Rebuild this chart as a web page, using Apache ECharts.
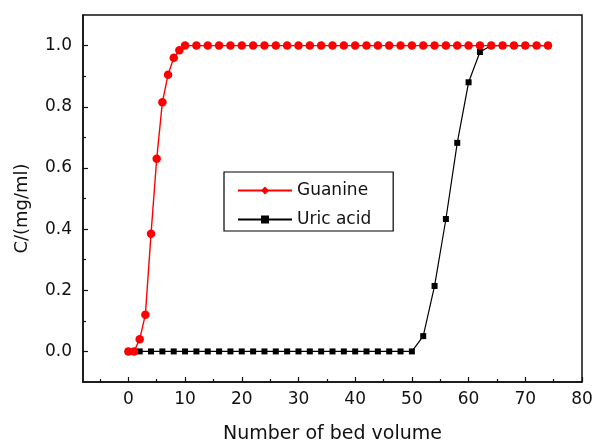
<!DOCTYPE html>
<html><head><meta charset="utf-8">
<script src="https://cdn.jsdelivr.net/npm/echarts@6/dist/echarts.min.js"></script>
<style>html,body{margin:0;padding:0;background:#fff}#c{width:592px;height:444px}</style>
</head><body><div id="c"></div>
<script>
// Data
const guanineX = [0,1,2,3,4,5,6,7,8,9,10,12,14,16,18,20,22,24,26,28,30,32,34,36,38,40,42,44,46,48,50,52,54,56,58,60,62,64,66,68,70,72,74];
const guanineY = [0,0,0.04,0.12,0.385,0.63,0.815,0.905,0.96,0.985,1.0,1.0,1.0,1.0,1.0,1.0,1.0,1.0,1.0,1.0,1.0,1.0,1.0,1.0,1.0,1.0,1.0,1.0,1.0,1.0,1.0,1.0,1.0,1.0,1.0,1.0,1.0,1.0,1.0,1.0,1.0,1.0,1.0];
const uricX = [0,2,4,6,8,10,12,14,16,18,20,22,24,26,28,30,32,34,36,38,40,42,44,46,48,50,52,54,56,58,60,62,64,66,68,70,72,74];
const uricY = [0,0,0,0,0,0,0,0,0,0,0,0,0,0,0,0,0,0,0,0,0,0,0,0,0,0,0.05,0.214,0.433,0.682,0.88,0.979,1.0,1.0,1.0,1.0,1.0,1.0];
const seriesNames = ['Guanine','Uric acid'];
const xTicks = [0,10,20,30,40,50,60,70,80];
const xMinorTicks = [-5,5,15,25,35,45,55,65,75];
const yTicks = [0,0.2,0.4,0.6,0.8,1.0];
const yMinorTicks = [0.1,0.3,0.5,0.7,0.9];

const font = 'DejaVu Sans';
const ink = '#111';
const chart = echarts.init(document.getElementById('c'), null, {renderer:'canvas'});
const gData = guanineX.map((x,i)=>({value:[x, guanineY[i]], symbol:'circle'}));
const uData = uricX.map((x,i)=>[x, uricY[i]]);
const tickStyle = {color:ink, width:1.2};
chart.setOption({
  animation:false,
  grid:{left:83, right:10, top:15, bottom:62, show:true, borderColor:ink, borderWidth:1.5,
        outerBoundsMode:'none', containLabel:false},
  xAxis:[{
    type:'value', min:-8, max:80, position:'bottom', splitLine:{show:false},
    axisLine:{show:true, onZero:false, lineStyle:{color:ink, width:1.5}},
    axisTick:{show:true, inside:true, length:5, customValues:xTicks, lineStyle:tickStyle},
    axisLabel:{customValues:xTicks, margin:9, color:ink, fontFamily:font, fontSize:17},
    name:'Number of bed volume', nameLocation:'middle', nameGap:43,
    nameTextStyle:{color:ink, fontFamily:font, fontSize:19}
  },{
    type:'value', min:-8, max:80, position:'bottom', splitLine:{show:false},
    axisLine:{show:false, onZero:false}, axisLabel:{show:false},
    axisTick:{show:true, inside:true, length:3, customValues:xMinorTicks, lineStyle:tickStyle}
  }],
  yAxis:[{
    type:'value', min:-0.1, max:1.1, position:'left', splitLine:{show:false},
    axisLine:{show:true, onZero:false, lineStyle:{color:ink, width:1.5}},
    axisTick:{show:true, inside:true, length:5, customValues:yTicks, lineStyle:tickStyle},
    axisLabel:{customValues:yTicks, margin:11, color:ink, fontFamily:font, fontSize:17, formatter:v=>v.toFixed(1)},
    name:'C/(mg/ml)', nameLocation:'middle', nameGap:52,
    nameTextStyle:{color:ink, fontFamily:font, fontSize:18, padding:[0,20,0,0]}
  },{
    type:'value', min:-0.1, max:1.1, position:'left', splitLine:{show:false},
    axisLine:{show:false, onZero:false}, axisLabel:{show:false},
    axisTick:{show:true, inside:true, length:3, customValues:yMinorTicks, lineStyle:tickStyle}
  }],
  legend:{
    data:seriesNames, orient:'vertical', left:224, top:172,
    padding:[10,22,3,13], itemGap:12, itemWidth:54, itemHeight:10,
    borderColor:'#000', borderWidth:1.2, backgroundColor:'#fff', borderRadius:0,
    textStyle:{color:ink, fontFamily:font, fontSize:17}
  },
  series:[{
    name:seriesNames[1], type:'line', data:uData, symbol:'rect', symbolSize:6,
    color:'#000', lineStyle:{color:'#000', width:1.2}, itemStyle:{color:'#000'}, z:2
  },{
    name:seriesNames[0], type:'line', data:gData, symbol:'diamond', symbolSize:8.5,
    color:'#ff0000', lineStyle:{color:'#ff0000', width:1.4}, itemStyle:{color:'#ff0000'}, z:3
  }]
});
</script></body></html>
